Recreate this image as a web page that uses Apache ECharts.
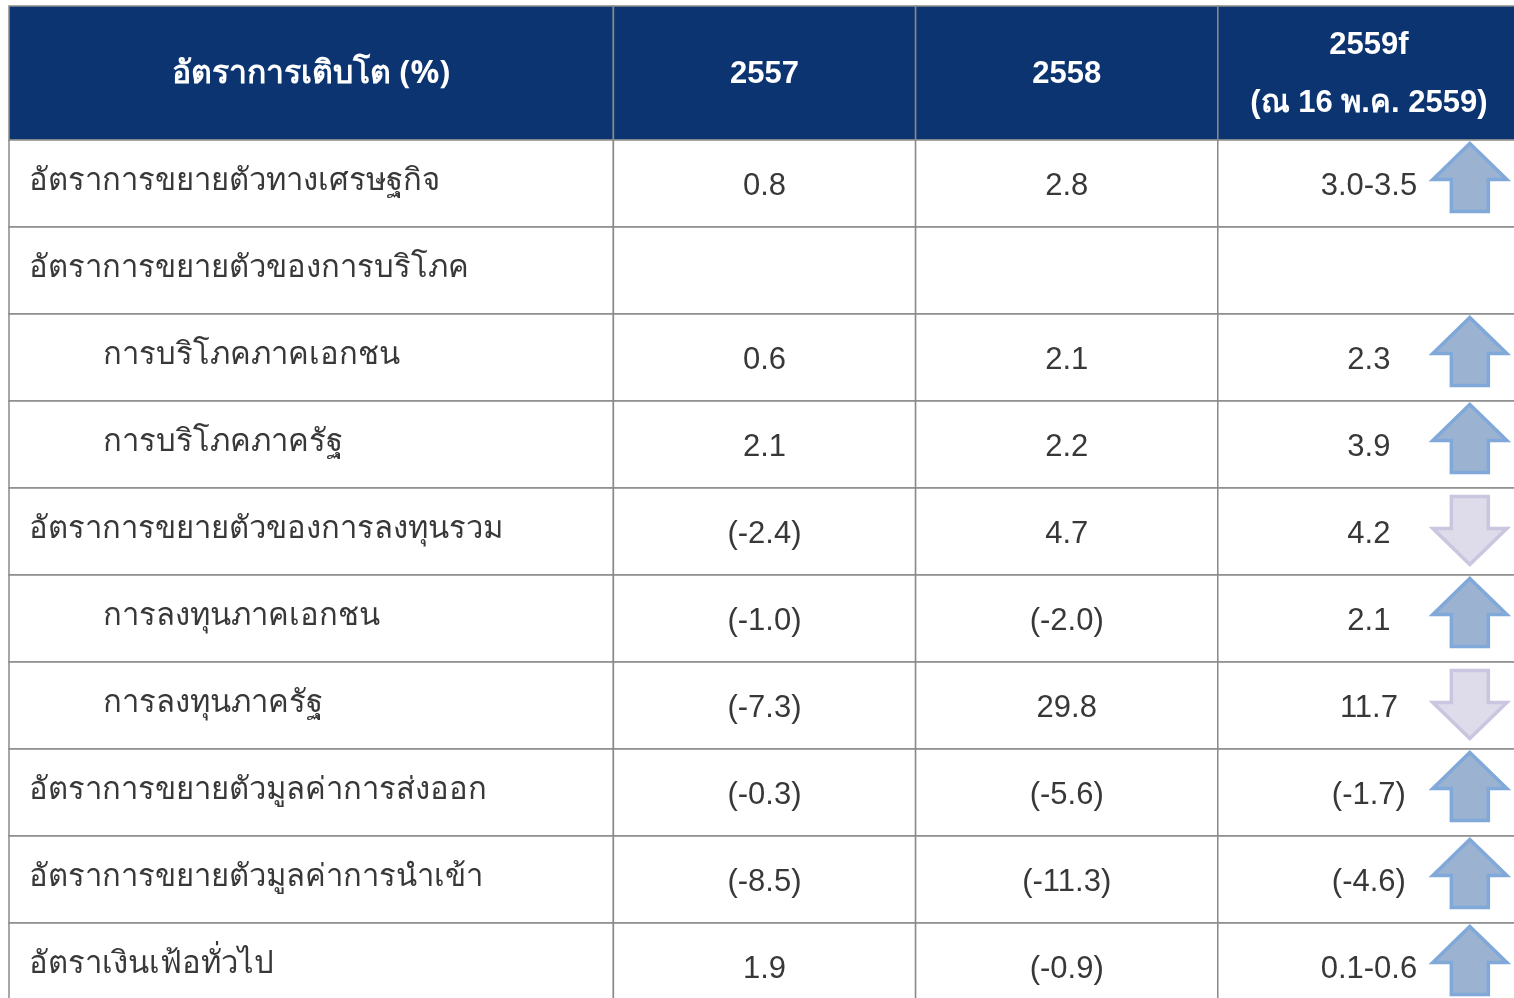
<!DOCTYPE html>
<html>
<head>
<meta charset="utf-8">
<script src="https://cdn.jsdelivr.net/npm/echarts@6/dist/echarts.min.js"></script>
<style>
  html, body { margin: 0; padding: 0; background: #fff; }
  #chart { width: 1514px; height: 998px; }
</style>
</head>
<body>
<div id="chart"></div>
<script>
// table content
const headers = ['อัตราการเติบโต (%)', '2557', '2558', '2559f\n(ณ 16 พ.ค. 2559)']
const rowLabels = [
  'อัตราการขยายตัวทางเศรษฐกิจ',
  'อัตราการขยายตัวของการบริโภค',
  'การบริโภคภาคเอกชน',
  'การบริโภคภาครัฐ',
  'อัตราการขยายตัวของการลงทุนรวม',
  'การลงทุนภาคเอกชน',
  'การลงทุนภาครัฐ',
  'อัตราการขยายตัวมูลค่าการส่งออก',
  'อัตราการขยายตัวมูลค่าการนำเข้า',
  'อัตราเงินเฟ้อทั่วไป'
]
const subRow = [false, false, true, true, false, true, true, false, false, false]
const v2557 = ['0.8', '', '0.6', '2.1', '(-2.4)', '(-1.0)', '(-7.3)', '(-0.3)', '(-8.5)', '1.9']
const v2558 = ['2.8', '', '2.1', '2.2', '4.7', '(-2.0)', '29.8', '(-5.6)', '(-11.3)', '(-0.9)']
const v2559 = ['3.0-3.5', '', '2.3', '3.9', '4.2', '2.1', '11.7', '(-1.7)', '(-4.6)', '0.1-0.6']
const trend2559 = ['up', '', 'up', 'up', 'down', 'up', 'down', 'up', 'up', 'up']

// layout: column edges in x units (one unit = one narrow column); the table runs
// a little past the right edge and the last row past the bottom edge
const colEdges = [0, 2, 3, 4, 5]
const xMax = 1505 / 302.2
const yMax = 858 / 87 - 0.5
const lineColor = '#8a8a8a'
const textColor = '#383838'
const thaiFont = '"Noto Sans", "DejaVu Sans", sans-serif'
const numFont = '"Liberation Sans", Arial, sans-serif'

const chart = echarts.init(document.getElementById('chart'))

function arrowPoints(cx, cy, dir) {
  const s = dir === 'up' ? 1 : -1
  const pts = [[0, -34], [37, 2], [18.5, 2], [18.5, 34], [-18.5, 34], [-18.5, 2], [-37, 2]]
  return pts.map(p => [cx + p[0], cy + s * p[1]])
}

function renderHeader(params, api) {
  const h = api.size([0, 1])[1]
  const cy = api.coord([0, 0])[1]
  const top = cy - h / 2
  const children = []
  for (let c = 0; c < 4; c++) {
    const x0 = api.coord([colEdges[c], 0])[0]
    const x1 = api.coord([colEdges[c + 1], 0])[0]
    children.push({
      type: 'rect',
      shape: { x: x0, y: top, width: x1 - x0, height: h },
      style: { fill: '#0c3470', stroke: lineColor, lineWidth: 1.5 }
    })
    children.push({
      type: 'text',
      style: {
        x: (x0 + x1) / 2, y: cy + 1,
        text: headers[c],
        fill: '#fff',
        font: c === 0 ? 'bold 32px ' + thaiFont : 'bold 31px ' + numFont,
        align: 'center', verticalAlign: 'middle',
        lineHeight: 58
      }
    })
  }
  return { type: 'group', children }
}

function renderRow(params, api) {
  const i = api.value(0)
  const h = api.size([0, 1])[1]
  const cy = api.coord([0, i])[1]
  const top = cy - h / 2
  const children = []
  const vals = [rowLabels[i], v2557[i], v2558[i], v2559[i]]
  for (let c = 0; c < 4; c++) {
    const x0 = api.coord([colEdges[c], i])[0]
    const x1 = api.coord([colEdges[c + 1], i])[0]
    children.push({
      type: 'rect',
      shape: { x: x0, y: top, width: x1 - x0, height: h },
      style: { fill: '#fff', stroke: lineColor, lineWidth: 1.5 }
    })
    if (c === 0) {
      children.push({
        type: 'text',
        style: {
          x: x0 + (subRow[i] ? 94 : 20), y: cy - 2,
          text: vals[c], fill: textColor,
          font: '31px ' + thaiFont,
          align: 'left', verticalAlign: 'middle'
        }
      })
    } else {
      children.push({
        type: 'text',
        style: {
          x: (x0 + x1) / 2, y: cy + 3,
          text: vals[c], fill: textColor,
          font: '31px ' + numFont,
          align: 'center', verticalAlign: 'middle'
        }
      })
    }
  }
  const t = trend2559[i]
  if (t) {
    const ax = api.coord([4.834, i])[0]
    children.push({
      type: 'polygon',
      shape: { points: arrowPoints(ax, cy + (t === 'up' ? -6 : -1), t) },
      style: t === 'up'
        ? { fill: '#9bb3d0', stroke: '#80a8d8', lineWidth: 3.5 }
        : { fill: '#dedbeb', stroke: '#cbc5df', lineWidth: 3.5 }
    })
  }
  return { type: 'group', children }
}

const option = {
  animation: false,
  grid: [
    { left: 9, top: 6, right: 0, height: 134 },
    { left: 9, top: 140, right: 0, bottom: 0 }
  ],
  xAxis: [
    { gridIndex: 0, type: 'value', min: 0, max: xMax, show: false },
    { gridIndex: 1, type: 'value', min: 0, max: xMax, show: false }
  ],
  yAxis: [
    { gridIndex: 0, type: 'category', data: ['header'], show: false },
    { gridIndex: 1, type: 'value', min: -0.5, max: yMax, inverse: true, show: false }
  ],
  series: [
    {
      type: 'custom',
      xAxisIndex: 0, yAxisIndex: 0,
      renderItem: renderHeader,
      data: [[0]],
      clip: false
    },
    {
      type: 'custom',
      xAxisIndex: 1, yAxisIndex: 1,
      renderItem: renderRow,
      data: rowLabels.map((r, i) => [i]),
      clip: false
    }
  ]
}
chart.setOption(option)
</script>
</body>
</html>
